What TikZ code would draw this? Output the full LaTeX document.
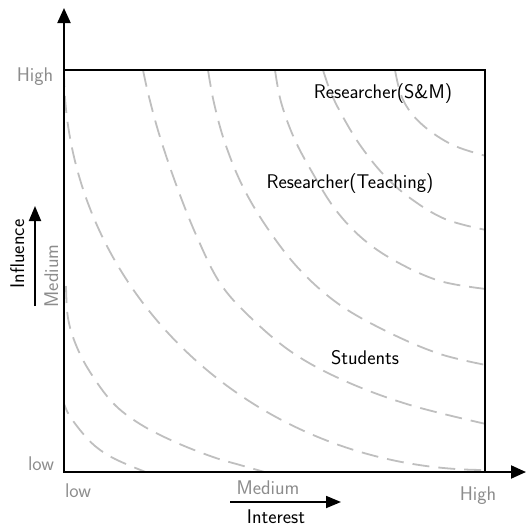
\documentclass[tikz,border=0pt]{standalone}
\usetikzlibrary{arrows.meta}
\begin{document}
\begin{tikzpicture}[x=1pt,y=-1pt,
  lbl/.style={font=\sffamily\fontsize{19.8}{23}\selectfont, inner sep=0pt, anchor=base},
  graylbl/.style={lbl, text=black!45},
  curve/.style={draw=black!25, line width=1.8pt, dash pattern=on 17pt off 9pt},
  axis/.style={draw=black, line width=2pt, -{Triangle[width=13pt,length=15pt]}},
  smallarrow/.style={draw=black, line width=1.8pt, -{Triangle[width=12pt,length=15pt]}}]
\useasboundingbox (0,0) rectangle (526,528);
% box corners
\coordinate (O) at (64,472);
\coordinate (TL) at (64,70);
\coordinate (BR) at (485,472);
\coordinate (ytip) at (64,8);
\coordinate (xtip) at (526,472);
% curves
\begin{scope}
\clip (TL) rectangle (BR);
\draw[curve] plot[smooth, tension=0.6] coordinates {(395,70) (401,95) (412,114) (430,131) (455,146) (486,156)};
\draw[curve] plot[smooth, tension=0.6] coordinates {(323,70) (331,93) (343,117) (360,145) (383,174) (410,198) (445,219) (486,230)};
\draw[curve] plot[smooth, tension=0.6] coordinates {(275,70) (281,102) (294,138) (312,172) (335,209) (363,239) (397,262) (440,281) (486,289)};
\draw[curve] plot[smooth, tension=0.6] coordinates {(208,70) (214,103) (225,143) (243,187) (268,229) (300,270) (340,305) (390,333) (440,354) (486,365)};
\draw[curve] plot[smooth, tension=0.6] coordinates {(143,70) (149,97) (160,137) (177,187) (197,237) (220,283) (250,317) (293,353) (345,381) (410,405) (486,424)};
\draw[curve] (64,70) .. controls (64,291) and (253,470) .. (486,470);
\draw[curve] plot[smooth, tension=0.6] coordinates {(66,286) (68,318) (76,345) (90,372) (113,403) (140,424) (175,442) (213,457) (240,465) (268,473)};
\draw[curve] plot[smooth, tension=0.6] coordinates {(62,398) (68,413) (80,430) (95,446) (115,459) (148,473)};
\end{scope}
% box and axes
\draw[line width=2pt] (TL) rectangle (BR);
\draw[axis] (O) -- (ytip);
\draw[axis] (O) -- (xtip);
% labels on the axes
\node[graylbl] (yhigh) at (35,81) {High};
\node[graylbl] (ylow) at (41,470) {low};
\node[graylbl] (xlow) at (78,497) {low};
\node[graylbl] (xmed) at (268,494) {Medium};
\node[graylbl] (xhigh) at (478,500) {High};
\node[lbl] (xname) at (276,523) {Interest};
\coordinate (ia) at (230,502);
\coordinate (ib) at (341,502);
\draw[smallarrow] (ia) -- (ib);
\node[lbl, rotate=90] (yname) at (24,254) {Influence};
\node[graylbl, rotate=90] (ymed) at (58,276) {Medium};
\coordinate (ja) at (35,306);
\coordinate (jb) at (35,206);
\draw[smallarrow] (ja) -- (jb);
% group labels
\node[lbl] (sm) at (383,98) {Researcher(S\&M)};
\node[lbl] (teach) at (350,188) {Researcher(Teaching)};
\node[lbl] (stud) at (365,364) {Students};
\end{tikzpicture}
\end{document}
